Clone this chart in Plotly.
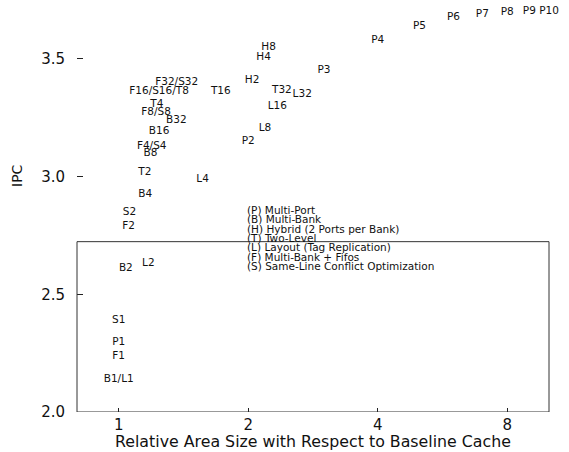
import math
import plotly.graph_objects as go

# ---- data ----
labels = ["P1", "P2", "P3", "P4", "P5", "P6", "P7", "P8", "P9", "P10",
          "B1/L1", "B2", "B4", "B8", "B16", "B32",
          "H2", "H4", "H8",
          "T2", "T4", "F16/S16/T8", "T16", "T32",
          "L2", "L4", "L8", "L16", "L32",
          "F1", "F2", "F4/S4", "F8/S8", "F32/S32",
          "S1", "S2"]
area = [1.0, 2.0, 3.0, 4.0, 5.0, 6.0, 7.0, 8.0, 9.0, 10.0,
        1.0, 1.039, 1.152, 1.185, 1.241, 1.361,
        2.041, 2.172, 2.231,
        1.150, 1.226, 1.241, 1.727, 2.395,
        1.172, 1.567, 2.187, 2.337, 2.670,
        1.0, 1.054, 1.193, 1.221, 1.364,
        1.0, 1.059]
ipc = [2.294, 3.148, 3.449, 3.580, 3.640, 3.675, 3.689, 3.696, 3.700, 3.703,
       2.140, 2.609, 2.923, 3.097, 3.191, 3.237,
       3.410, 3.505, 3.548,
       3.017, 3.307, 3.362, 3.362, 3.367,
       2.630, 2.986, 3.204, 3.300, 3.350,
       2.235, 2.787, 3.129, 3.271, 3.401,
       2.388, 2.847]

legend_lines = ["(P) Multi-Port", "(B) Multi-Bank", "(H) Hybrid (2 Ports per Bank)",
                "(T) Two-Level", "(L) Layout (Tag Replication)", "(F) Multi-Bank + Fifos",
                "(S) Same-Line Conflict Optimization"]

x_ticks = [1, 2, 4, 8]
y_ticks = [2.0, 2.5, 3.0, 3.5]
x_range = [0.8, 10.0]
y_range = [2.0, 3.75]
box_top = 2.7235

FONT = "DejaVu Sans"

fig = go.Figure()
fig.add_trace(go.Scatter(
    x=area, y=ipc, text=labels, mode="text",
    textposition="middle center",
    textfont=dict(family=FONT, size=10.5, color="#111"),
    cliponaxis=False, showlegend=False, hoverinfo="skip"))

# frame box (lower part of the plot)
fig.add_shape(type="rect", xref="paper", yref="y", x0=0, x1=1, y0=2.0, y1=box_top,
              line=dict(color="#333", width=1), fillcolor="rgba(0,0,0,0)", layer="above")

# legend-like text block
lx = math.log10(1.97)
for i, t in enumerate(legend_lines):
    fig.add_annotation(x=lx, y=2.858 - i * 0.0395, xref="x", yref="y", text=t,
                       showarrow=False, xanchor="left", yanchor="middle",
                       font=dict(family=FONT, size=10.5, color="#111"))

H = 412.0
fig.add_annotation(x=0.5, y=-(441 - 412) / H, xref="paper", yref="paper",
                   text="Relative Area Size with Respect to Baseline Cache",
                   showarrow=False, xanchor="center", yanchor="middle",
                   font=dict(family=FONT, size=15.8, color="#111"))
fig.add_annotation(x=-(77 - 17) / 472.0, y=(412 - 176) / H, xref="paper", yref="paper",
                   text="IPC", textangle=-90, showarrow=False,
                   xanchor="center", yanchor="middle",
                   font=dict(family=FONT, size=14, color="#111"))

fig.update_xaxes(type="log", range=[math.log10(x_range[0]), math.log10(x_range[1])],
                 tickvals=x_ticks, ticktext=[str(v) for v in x_ticks],
                 ticks="inside", ticklen=4, tickcolor="#222", tickwidth=1,
                 ticklabelstandoff=2,
                 showgrid=False, zeroline=False, showline=False,
                 tickfont=dict(family=FONT, size=15, color="#111"))
fig.update_yaxes(range=y_range, tickvals=y_ticks,
                 ticktext=["%.1f" % v for v in y_ticks],
                 ticks="inside", ticklen=6, tickcolor="#222", tickwidth=1,
                 ticklabelstandoff=11,
                 showgrid=False, zeroline=False, showline=False,
                 tickfont=dict(family=FONT, size=15, color="#111"))

fig.update_layout(width=569, height=452,
                  margin=dict(l=77, r=20, t=0, b=40, autoexpand=False),
                  paper_bgcolor="white", plot_bgcolor="white")

fig.write_html("out.html", config={"displayModeBar": False},
               post_script="document.body.style.margin='0';document.body.style.padding='0';")
